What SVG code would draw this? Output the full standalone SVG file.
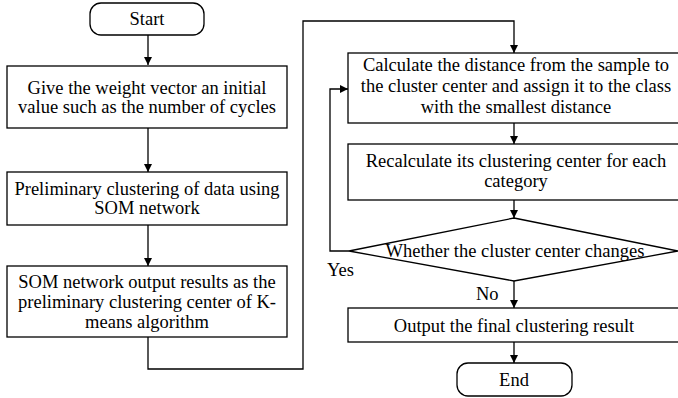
<svg xmlns="http://www.w3.org/2000/svg" width="678" height="398" viewBox="0 0 678 398">
  <defs>
    <marker id="arrow" viewBox="0 0 10 10" refX="10" refY="5" markerWidth="8" markerHeight="10" markerUnits="userSpaceOnUse" orient="auto">
      <path d="M0,0 L10,5 L0,10 Z" fill="#000"/>
    </marker>
    <style>
      .box { fill: #fff; stroke: #000; stroke-width: 1.3; }
      .edge { fill: none; stroke: #000; stroke-width: 1.3; marker-end: url(#arrow); }
      text { font-family: "Liberation Serif", "Times New Roman", serif; font-size: 18.5px; fill: #000; text-anchor: middle; }
      text.lbl { text-anchor: start; }
    </style>
  </defs>
  <rect width="678" height="398" fill="#fff"/>

  <g id="connectors">
    <path class="edge" d="M148,35 V65"/>
    <path class="edge" d="M148,128 V172"/>
    <path class="edge" d="M148,225 V266"/>
    <path class="edge" d="M148,337 V369 H303 V21 H514 V53"/>
    <path class="edge" d="M514,123 V144"/>
    <path class="edge" d="M514,200 V218"/>
    <path class="edge" d="M349,251 H330 V89 H348"/>
    <path class="edge" d="M514,281 V308"/>
    <path class="edge" d="M514,342 V363"/>
  </g>

  <g id="start">
    <rect class="box" x="90" y="3" width="114" height="32" rx="11"/>
    <text x="147" y="25">Start</text>
  </g>

  <g id="init-weights">
    <rect class="box" x="7" y="66" width="280" height="62"/>
    <text x="147" y="94">Give the weight vector an initial</text>
    <text x="147" y="113">value such as the number of cycles</text>
  </g>

  <g id="som-clustering">
    <rect class="box" x="7" y="172" width="280" height="53"/>
    <text x="147" y="195">Preliminary clustering of data using</text>
    <text x="147" y="214">SOM network</text>
  </g>

  <g id="som-output">
    <rect class="box" x="7" y="266" width="280" height="71"/>
    <text x="147" y="288">SOM network output results as the</text>
    <text x="147" y="308">preliminary clustering center of K-</text>
    <text x="147" y="328">means algorithm</text>
  </g>

  <g id="assign-class">
    <rect class="box" x="348" y="53" width="336" height="70"/>
    <text x="516" y="71">Calculate the distance from the sample to</text>
    <text x="516" y="92">the cluster center and assign it to the class</text>
    <text x="516" y="113">with the smallest distance</text>
  </g>

  <g id="recalc-center">
    <rect class="box" x="348" y="144" width="336" height="56"/>
    <text x="516" y="167">Recalculate its clustering center for each</text>
    <text x="516" y="187">category</text>
  </g>

  <g id="center-changes">
    <polygon class="box" points="514,218 678,251 514,281 349,251"/>
    <text x="515" y="257">Whether the cluster center changes</text>
  </g>

  <g id="output-result">
    <rect class="box" x="348" y="308" width="336" height="34"/>
    <text x="514" y="332">Output the final clustering result</text>
  </g>

  <g id="end">
    <rect class="box" x="457" y="363" width="115" height="33" rx="11"/>
    <text x="514" y="386">End</text>
  </g>

  <g id="labels">
    <text class="lbl" x="327" y="276">Yes</text>
    <text class="lbl" x="476" y="300">No</text>
  </g>
</svg>
